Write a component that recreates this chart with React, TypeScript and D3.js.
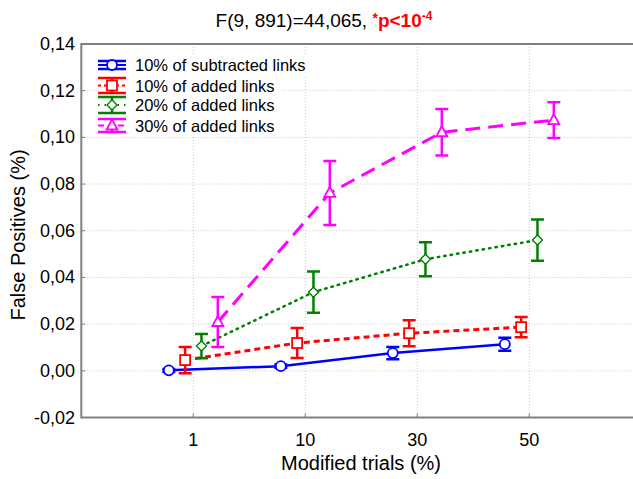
import React from "react";
import * as d3 from "d3";

const categories = ["1", "10", "30", "50"];
const seriesNames = [
  "10% of subtracted links",
  "10% of added links",
  "20% of added links",
  "30% of added links",
];
const subtracted10Mean = [0.0002, 0.002, 0.0076, 0.0114];
const subtracted10Err = [0.0006, 0.0007, 0.0026, 0.0028];
const added10Mean = [0.0046, 0.0119, 0.0161, 0.0187];
const added10Err = [0.0056, 0.0064, 0.0056, 0.0043];
const added20Mean = [0.0106, 0.0337, 0.0478, 0.056];
const added20Err = [0.0052, 0.0088, 0.0073, 0.0088];
const added30Mean = [0.0209, 0.0762, 0.1022, 0.1074];
const added30Err = [0.0107, 0.0137, 0.01, 0.0077];
const yTicks = [-0.02, 0, 0.02, 0.04, 0.06, 0.08, 0.1, 0.12, 0.14];

const W = 633;
const H = 479;

const styles = [
  { color: "#0000ff", dash: "none", width: 2.5, marker: "circle", legendHalf: 4 },
  { color: "#ff0000", dash: "6,4", width: 3, marker: "square", legendHalf: 7.5 },
  { color: "#008000", dash: "1.5,5", width: 2.5, marker: "diamond", legendHalf: 8 },
  { color: "#ff00ff", dash: "15,8", width: 3, marker: "triangle", legendHalf: 6.5 },
];

const means = [subtracted10Mean, added10Mean, added20Mean, added30Mean];
const errs = [subtracted10Err, added10Err, added20Err, added30Err];

function Marker({ type, x, y, color }: { type: string; x: number; y: number; color: string }) {
  const common = { fill: "#fff", stroke: color, strokeWidth: 1.8 };
  if (type === "circle") return <circle cx={x} cy={y} r={5} {...common} />;
  if (type === "square") return <rect x={x - 5} y={y - 5} width={10} height={10} {...common} />;
  if (type === "diamond")
    return <path d={`M${x},${y - 5}L${x + 5},${y}L${x},${y + 5}L${x - 5},${y}Z`} {...common} strokeWidth={1.4} />;
  return <path d={`M${x},${y - 6}L${x + 5.5},${y + 4}L${x - 5.5},${y + 4}Z`} {...common} />;
}

export default function App() {
  const left = 81.3;
  const right = 641.3;
  const top = 44;
  const bottom = 417.5;
  const x = d3.scaleLinear().domain([0, 5]).range([left, right]);
  const y = d3.scaleLinear().domain([-0.02, 0.14]).range([bottom, top]);
  const dodge = d3.scalePoint<string>().domain(seriesNames).range([-24.5, 24.5]);
  const fmt = (v: number) => d3.format(".2f")(v).replace(".", ",").replace("−", "-");

  const lineGen = d3
    .line<[number, number]>()
    .x((d) => d[0])
    .y((d) => d[1]);

  const legendX = 98;
  const legendRowY = [65, 85.5, 105, 125.5];

  return (
    <svg width={W} height={H} style={{ position: "absolute", left: 0, top: 0 }} fontFamily="Arial, 'Liberation Sans', sans-serif">
      <rect x={0} y={0} width={W} height={H} fill="#fff" />
      <defs>
        <clipPath id="plotclip">
          <rect x={left} y={top - 2} width={right - left} height={bottom - top + 4} />
        </clipPath>
      </defs>
      {/* grid */}
      <g stroke="#c8c8c8" strokeWidth={1} strokeDasharray="1,2">
        {yTicks.slice(1, -1).map((t) => (
          <line key={t} x1={left} x2={W} y1={y(t)} y2={y(t)} />
        ))}
        {categories.map((c, i) => (
          <line key={c} x1={x(i + 1)} x2={x(i + 1)} y1={top} y2={bottom} />
        ))}
      </g>
      {/* frame */}
      <g stroke="#808080" strokeWidth={2} fill="none">
        <line x1={left} x2={W} y1={top} y2={top} />
        <line x1={left} x2={left} y1={top - 1} y2={bottom + 1} />
        <line x1={left} x2={W} y1={bottom} y2={bottom} />
        {yTicks.map((t) => (
          <line key={t} x1={left} x2={left + 4} y1={y(t)} y2={y(t)} strokeWidth={1} />
        ))}
        {categories.map((c, i) => (
          <line key={c} x1={x(i + 1)} x2={x(i + 1)} y1={bottom} y2={bottom - 4} strokeWidth={1} />
        ))}
      </g>
      {/* y tick labels */}
      <g fontSize={18} fill="#000" textAnchor="end">
        {yTicks.map((t) => (
          <text key={t} x={75} y={y(t) + 6}>
            {fmt(t)}
          </text>
        ))}
      </g>
      {/* x tick labels */}
      <g fontSize={18} fill="#000" textAnchor="middle">
        {categories.map((c, i) => (
          <text key={c} x={x(i + 1)} y={446}>
            {c}
          </text>
        ))}
      </g>
      <text x={361} y={470} fontSize={20} textAnchor="middle">
        Modified trials (%)
      </text>
      <text transform="translate(25,235) rotate(-90)" fontSize={20} textAnchor="middle">
        False Positives (%)
      </text>
      {/* title */}
      <text x={324} y={27} fontSize={19} textAnchor="middle">
        <tspan>F(9, 891)=44,065, </tspan>
        <tspan fill="#ff0000" fontSize={14} fontWeight="bold" dy={-4}>*</tspan>
        <tspan fill="#ff0000" fontWeight="bold" dy={4}>p&lt;10</tspan>
        <tspan fill="#ff0000" fontWeight="bold" fontSize={12} dy={-7}>-4</tspan>
      </text>
      {/* series */}
      <g clipPath="url(#plotclip)">
        {seriesNames.map((name, si) => {
          const st = styles[si];
          const pts: [number, number][] = means[si].map((m, i) => [x(i + 1) + (dodge(name) as number), y(m)]);
          return (
            <g key={name}>
              <path
                d={lineGen(pts) || ""}
                fill="none"
                stroke={st.color}
                strokeWidth={st.width}
                strokeDasharray={st.dash}
                strokeLinecap={si === 2 ? "round" : "butt"}
              />
              {pts.map((p, i) => {
                const hi = y(means[si][i] + errs[si][i]);
                const lo = y(means[si][i] - errs[si][i]);
                return (
                  <g key={i} stroke={st.color} strokeWidth={2.5}>
                    <line x1={p[0]} x2={p[0]} y1={hi} y2={lo} />
                    <line x1={p[0] - 6.5} x2={p[0] + 6.5} y1={hi} y2={hi} />
                    <line x1={p[0] - 6.5} x2={p[0] + 6.5} y1={lo} y2={lo} />
                  </g>
                );
              })}
              {pts.map((p, i) => (
                <Marker key={"m" + i} type={st.marker} x={p[0]} y={p[1]} color={st.color} />
              ))}
            </g>
          );
        })}
      </g>
      {/* legend */}
      <g>
        {seriesNames.map((name, si) => {
          const st = styles[si];
          const cy = legendRowY[si];
          const cx = legendX + 14;
          return (
            <g key={name}>
              <rect x={legendX - 2} y={cy - 10} width={name.length * 7.8 + 44} height={21} fill="#fff" />
              <line x1={legendX} x2={legendX + 28} y1={cy} y2={cy} stroke={st.color} strokeWidth={2} strokeDasharray={si === 0 ? "none" : si === 1 ? "3,3" : si === 2 ? "1.5,5" : "6,4"} />
              <g stroke={st.color} strokeWidth={2.5}>
                <line x1={cx} x2={cx} y1={cy - st.legendHalf} y2={cy + st.legendHalf} />
                <line x1={legendX} x2={legendX + 28} y1={cy - st.legendHalf} y2={cy - st.legendHalf} />
                <line x1={legendX} x2={legendX + 28} y1={cy + st.legendHalf} y2={cy + st.legendHalf} />
              </g>
              <Marker type={st.marker} x={cx} y={cy} color={st.color} />
              <text x={135} y={cy + 6} fontSize={16.5} fill="#000">
                {name}
              </text>
            </g>
          );
        })}
      </g>
    </svg>
  );
}
